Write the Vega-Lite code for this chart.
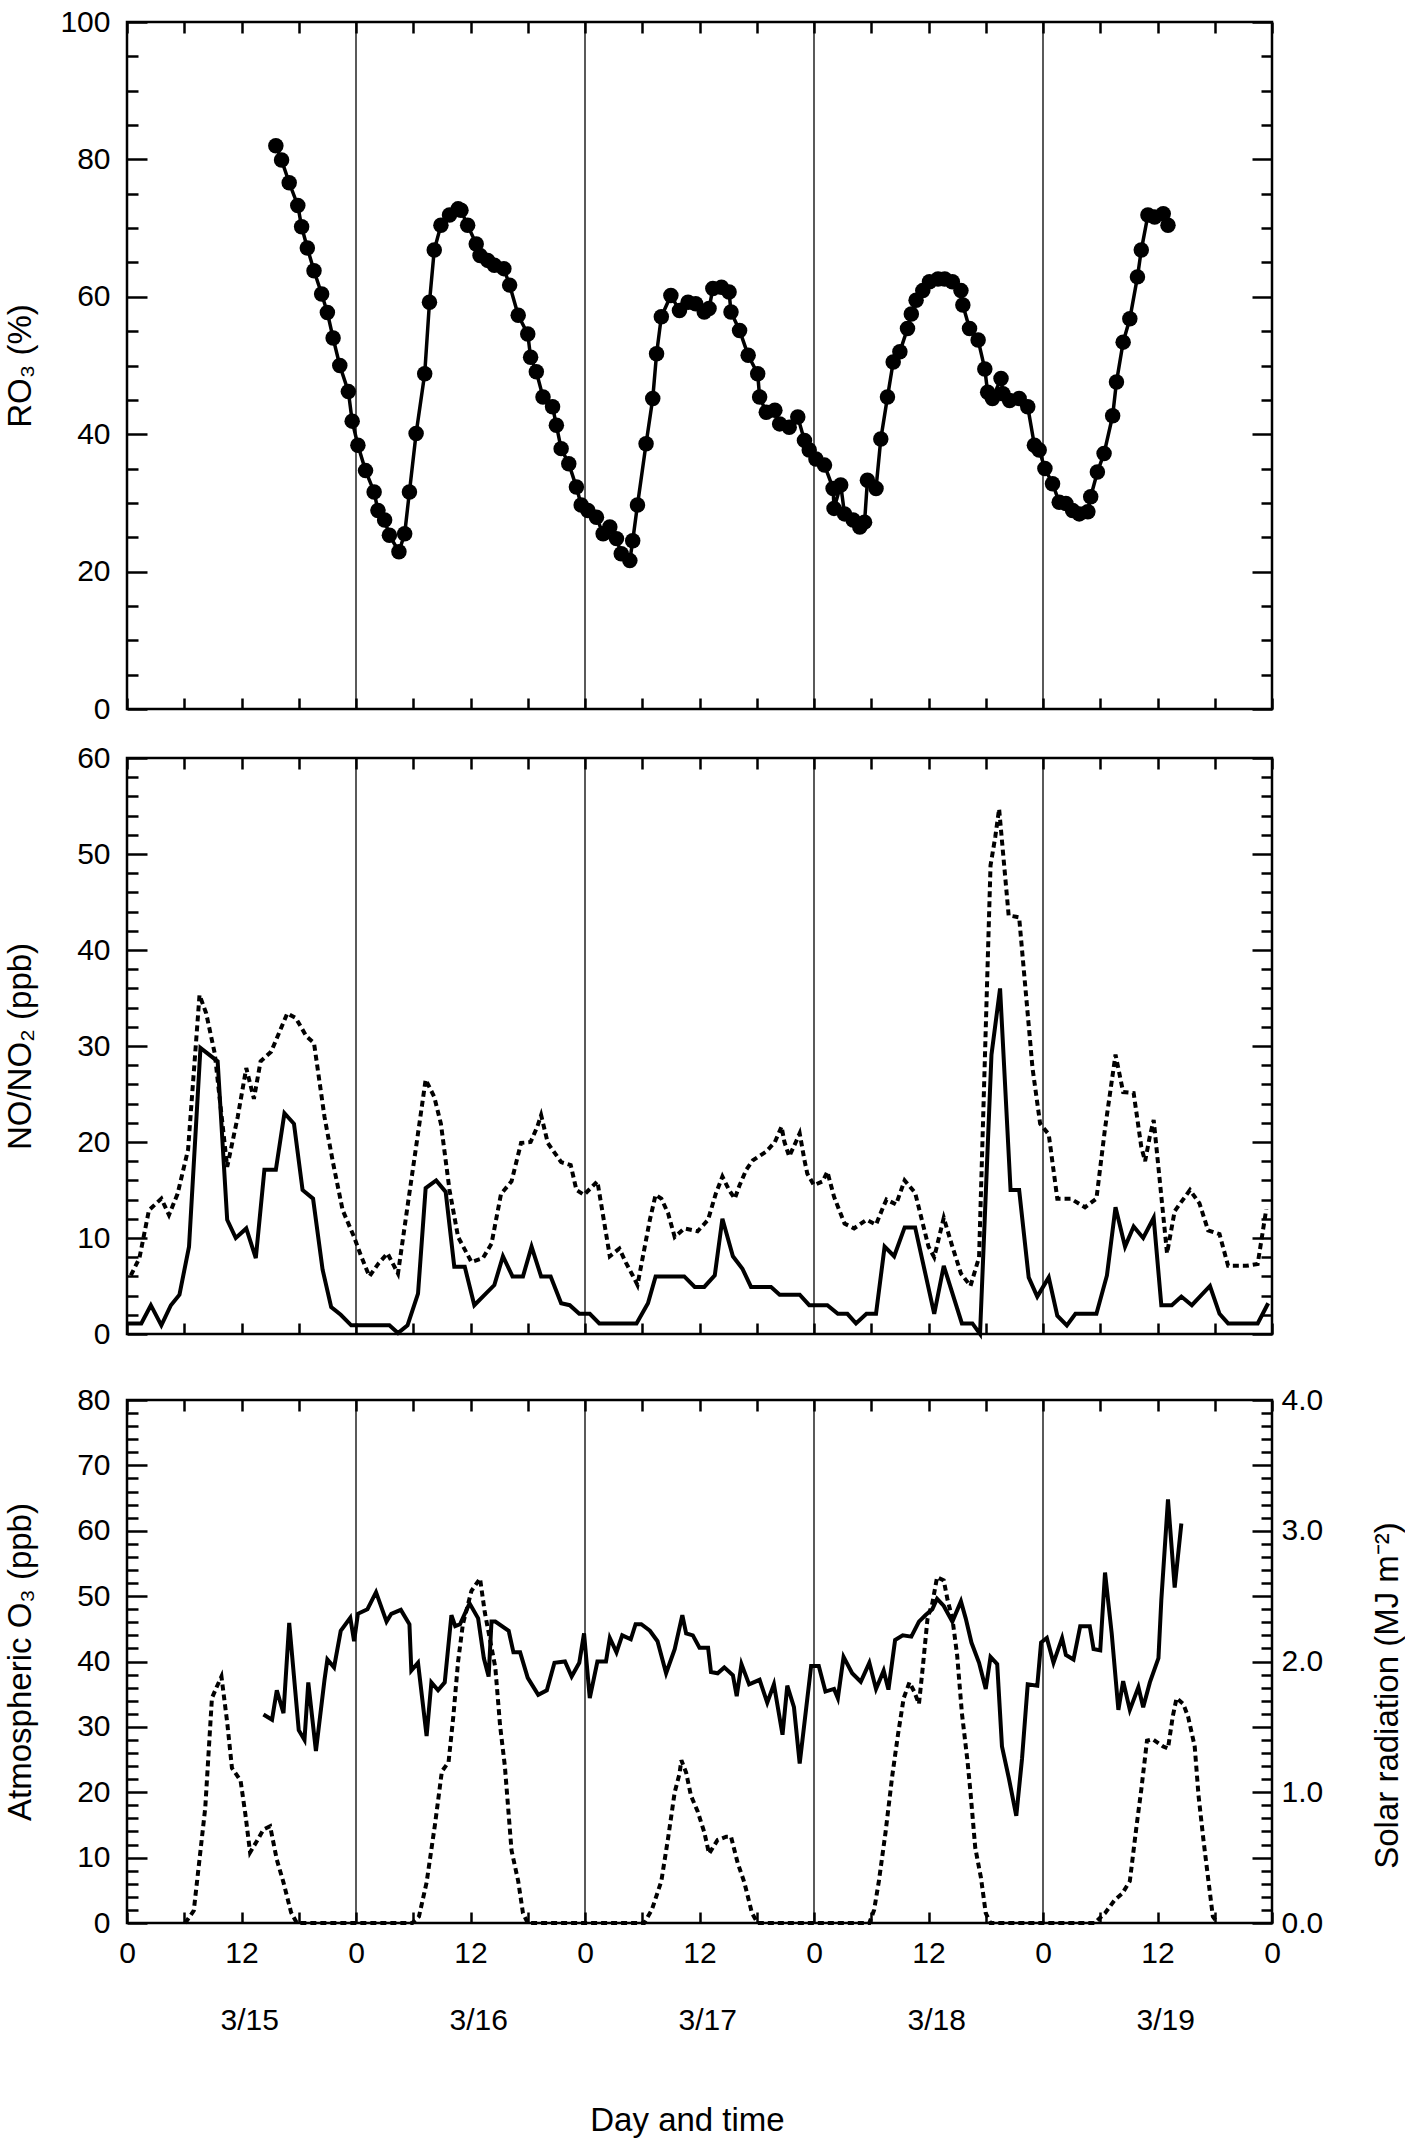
{
  "$schema": "https://vega.github.io/schema/vega-lite/v6.json",
  "padding": {"left": 2, "top": 5, "right": 0, "bottom": 0},
  "background": "white",
  "config": {
    "font": "Liberation Sans",
    "view": {"stroke": "black", "strokeWidth": 2.5},
    "axis": {
      "labelFont": "Liberation Sans", "labelFontSize": 30, "labelColor": "black",
      "titleFont": "Liberation Sans", "titleFontSize": 33, "titleFontWeight": "normal", "titleColor": "black",
      "tickColor": "black", "tickWidth": 2.5, "domain": false, "grid": false,
      "labelOverlap": false, "labelFlush": false
    }
  },
  "datasets": {
    "days": [{"d": 24}, {"d": 48}, {"d": 72}, {"d": 96}],
    "ro3": [
      {"h":15.6,"v":82.0},{"h":16.2,"v":79.9},{"h":17.0,"v":76.6},{"h":17.9,"v":73.3},{"h":18.3,"v":70.2},{"h":18.9,"v":67.1},
      {"h":19.6,"v":63.8},{"h":20.4,"v":60.4},{"h":21.0,"v":57.7},{"h":21.6,"v":54.0},{"h":22.3,"v":50.0},{"h":23.2,"v":46.2},
      {"h":23.6,"v":41.9},{"h":24.2,"v":38.4},{"h":25.0,"v":34.7},{"h":25.9,"v":31.6},{"h":26.3,"v":28.9},{"h":27.0,"v":27.5},
      {"h":27.5,"v":25.3},{"h":28.5,"v":22.9},{"h":29.1,"v":25.5},{"h":29.6,"v":31.6},{"h":30.3,"v":40.1},{"h":31.2,"v":48.8},
      {"h":31.7,"v":59.2},{"h":32.2,"v":66.8},{"h":32.9,"v":70.4},{"h":33.8,"v":71.9},{"h":34.7,"v":72.8},{"h":35.0,"v":72.6},
      {"h":35.7,"v":70.4},{"h":36.6,"v":67.7},{"h":37.0,"v":66.0},{"h":37.8,"v":65.3},{"h":38.5,"v":64.6},{"h":39.5,"v":64.1},
      {"h":40.1,"v":61.7},{"h":41.0,"v":57.3},{"h":42.0,"v":54.6},{"h":42.3,"v":51.2},{"h":42.9,"v":49.1},{"h":43.6,"v":45.4},
      {"h":44.6,"v":44.0},{"h":45.0,"v":41.3},{"h":45.5,"v":37.9},{"h":46.3,"v":35.7},{"h":47.1,"v":32.3},{"h":47.6,"v":29.7},
      {"h":48.3,"v":28.9},{"h":49.2,"v":27.9},{"h":49.9,"v":25.5},{"h":50.6,"v":26.5},{"h":51.3,"v":24.8},{"h":51.8,"v":22.6},
      {"h":52.7,"v":21.6},{"h":53.0,"v":24.5},{"h":53.5,"v":29.7},{"h":54.4,"v":38.6},{"h":55.1,"v":45.2},{"h":55.5,"v":51.7},
      {"h":56.0,"v":57.1},{"h":57.0,"v":60.2},{"h":57.9,"v":58.0},{"h":58.8,"v":59.2},{"h":59.6,"v":59.0},{"h":60.5,"v":57.8},
      {"h":61.0,"v":58.3},{"h":61.4,"v":61.2},{"h":62.3,"v":61.4},{"h":63.1,"v":60.7},{"h":63.3,"v":57.8},{"h":64.2,"v":55.1},
      {"h":65.1,"v":51.5},{"h":66.1,"v":48.8},{"h":66.3,"v":45.4},{"h":67.0,"v":43.2},{"h":67.9,"v":43.5},{"h":68.4,"v":41.5},
      {"h":69.4,"v":41.0},{"h":70.3,"v":42.5},{"h":71.0,"v":39.1},{"h":71.5,"v":37.7},{"h":72.2,"v":36.4},{"h":73.1,"v":35.5},
      {"h":74.0,"v":32.1},{"h":74.1,"v":29.2},{"h":74.8,"v":32.6},{"h":75.2,"v":28.4},{"h":76.1,"v":27.5},{"h":76.8,"v":26.5},
      {"h":77.3,"v":27.2},{"h":77.6,"v":33.3},{"h":78.5,"v":32.1},{"h":79.0,"v":39.3},{"h":79.7,"v":45.4},{"h":80.3,"v":50.5},
      {"h":81.0,"v":52.0},{"h":81.8,"v":55.4},{"h":82.2,"v":57.5},{"h":82.7,"v":59.5},{"h":83.4,"v":60.9},{"h":84.1,"v":62.2},
      {"h":85.0,"v":62.6},{"h":85.7,"v":62.6},{"h":86.5,"v":62.2},{"h":87.4,"v":60.9},{"h":87.6,"v":58.8},{"h":88.3,"v":55.4},
      {"h":89.2,"v":53.7},{"h":89.9,"v":49.5},{"h":90.2,"v":46.1},{"h":90.7,"v":45.2},{"h":91.6,"v":48.1},{"h":91.8,"v":45.9},
      {"h":92.5,"v":44.9},{"h":93.5,"v":45.2},{"h":94.4,"v":44.0},{"h":95.1,"v":38.4},{"h":95.6,"v":37.7},{"h":96.2,"v":35.0},
      {"h":97.0,"v":32.8},{"h":97.7,"v":30.1},{"h":98.4,"v":29.9},{"h":99.1,"v":28.9},{"h":99.8,"v":28.4},{"h":100.7,"v":28.7},
      {"h":101.0,"v":30.9},{"h":101.7,"v":34.5},{"h":102.4,"v":37.2},{"h":103.3,"v":42.7},{"h":103.7,"v":47.6},{"h":104.4,"v":53.4},
      {"h":105.1,"v":56.8},{"h":105.9,"v":62.9},{"h":106.3,"v":66.8},{"h":107.0,"v":71.9},{"h":107.7,"v":71.6},{"h":108.6,"v":72.1},
      {"h":109.1,"v":70.4}
    ],
    "no": [
      {"h":0.1,"v":1.1},{"h":1.5,"v":1.1},{"h":2.5,"v":3.0},{"h":3.6,"v":0.9},{"h":4.6,"v":3.0},{"h":5.5,"v":4.1},{"h":6.5,"v":9.1},
      {"h":7.7,"v":29.8},{"h":9.5,"v":28.4},{"h":10.5,"v":11.9},{"h":11.4,"v":10.0},{"h":12.5,"v":11.0},{"h":13.5,"v":7.9},
      {"h":14.4,"v":17.1},{"h":15.6,"v":17.1},{"h":16.5,"v":23.0},{"h":17.5,"v":21.9},{"h":18.4,"v":15.0},{"h":19.5,"v":14.1},
      {"h":20.5,"v":6.7},{"h":21.4,"v":2.8},{"h":22.4,"v":2.0},{"h":23.5,"v":0.9},{"h":27.5,"v":0.9},{"h":28.4,"v":0.1},
      {"h":29.4,"v":0.9},{"h":30.5,"v":4.2},{"h":31.3,"v":15.2},{"h":32.4,"v":16.0},{"h":33.4,"v":14.8},{"h":34.3,"v":7.0},
      {"h":35.4,"v":7.0},{"h":36.4,"v":3.0},{"h":37.5,"v":4.1},{"h":38.5,"v":5.1},{"h":39.4,"v":8.1},{"h":40.4,"v":6.0},
      {"h":41.5,"v":6.0},{"h":42.4,"v":9.1},{"h":43.4,"v":6.0},{"h":44.4,"v":6.0},{"h":45.5,"v":3.2},{"h":46.4,"v":3.0},
      {"h":47.4,"v":2.1},{"h":48.5,"v":2.1},{"h":49.5,"v":1.1},{"h":53.4,"v":1.1},{"h":54.6,"v":3.2},{"h":55.4,"v":6.0},
      {"h":58.4,"v":6.0},{"h":59.5,"v":4.9},{"h":60.5,"v":4.9},{"h":61.6,"v":6.1},{"h":62.4,"v":12.0},{"h":63.5,"v":8.1},
      {"h":64.5,"v":6.8},{"h":65.4,"v":4.9},{"h":67.5,"v":4.9},{"h":68.4,"v":4.1},{"h":70.5,"v":4.1},{"h":71.5,"v":3.0},
      {"h":73.4,"v":3.0},{"h":74.5,"v":2.1},{"h":75.5,"v":2.1},{"h":76.4,"v":1.1},{"h":77.5,"v":2.1},{"h":78.5,"v":2.1},
      {"h":79.4,"v":9.1},{"h":80.4,"v":8.1},{"h":81.5,"v":11.1},{"h":82.6,"v":11.1},{"h":84.6,"v":2.1},{"h":85.6,"v":7.1},
      {"h":87.5,"v":1.1},{"h":88.6,"v":1.1},{"h":89.4,"v":0.0},{"h":90.6,"v":29.1},{"h":91.5,"v":36.0},{"h":92.6,"v":15.0},
      {"h":93.5,"v":15.0},{"h":94.5,"v":5.9},{"h":95.4,"v":3.9},{"h":96.6,"v":5.9},{"h":97.5,"v":1.9},{"h":98.5,"v":0.9},
      {"h":99.4,"v":2.1},{"h":101.6,"v":2.1},{"h":102.7,"v":6.1},{"h":103.6,"v":13.2},{"h":104.6,"v":9.1},{"h":105.5,"v":11.2},
      {"h":106.5,"v":10.0},{"h":107.6,"v":12.1},{"h":108.4,"v":3.0},{"h":109.5,"v":3.0},{"h":110.5,"v":3.9},{"h":111.6,"v":3.0},
      {"h":113.5,"v":5.0},{"h":114.5,"v":2.1},{"h":115.4,"v":1.1},{"h":118.5,"v":1.1},{"h":119.6,"v":3.2}
    ],
    "no2": [
      {"h":0.4,"v":6.1},{"h":1.3,"v":7.9},{"h":2.3,"v":12.9},{"h":3.6,"v":14.1},{"h":4.4,"v":12.4},{"h":5.3,"v":14.6},
      {"h":6.4,"v":19.2},{"h":7.6,"v":35.3},{"h":8.3,"v":33.4},{"h":9.2,"v":29.2},{"h":10.5,"v":17.4},{"h":11.6,"v":22.6},
      {"h":12.5,"v":27.7},{"h":13.3,"v":24.5},{"h":14.0,"v":28.4},{"h":15.1,"v":29.4},{"h":16.8,"v":33.4},{"h":17.7,"v":32.9},
      {"h":18.8,"v":31.0},{"h":19.6,"v":30.3},{"h":20.7,"v":22.6},{"h":21.6,"v":17.8},{"h":22.6,"v":12.9},{"h":23.8,"v":10.1},
      {"h":24.5,"v":8.2},{"h":25.4,"v":6.0},{"h":26.4,"v":7.4},{"h":27.3,"v":8.4},{"h":28.4,"v":6.3},{"h":29.4,"v":13.3},
      {"h":30.5,"v":20.9},{"h":31.3,"v":26.5},{"h":32.2,"v":24.7},{"h":32.9,"v":21.9},{"h":33.8,"v":15.0},{"h":34.7,"v":10.1},
      {"h":36.1,"v":7.5},{"h":37.3,"v":7.9},{"h":38.2,"v":9.4},{"h":39.2,"v":14.6},{"h":40.3,"v":15.9},{"h":41.3,"v":19.9},
      {"h":42.3,"v":20.0},{"h":43.0,"v":21.6},{"h":43.4,"v":22.8},{"h":44.1,"v":19.9},{"h":45.5,"v":17.9},{"h":46.5,"v":17.6},
      {"h":47.1,"v":15.0},{"h":47.9,"v":14.5},{"h":49.3,"v":15.9},{"h":50.6,"v":8.1},{"h":51.6,"v":8.9},{"h":52.3,"v":7.4},
      {"h":53.0,"v":6.1},{"h":53.5,"v":5.1},{"h":54.8,"v":11.9},{"h":55.4,"v":14.5},{"h":56.0,"v":14.1},{"h":56.7,"v":12.6},
      {"h":57.4,"v":10.1},{"h":58.4,"v":11.0},{"h":59.8,"v":10.7},{"h":60.9,"v":11.9},{"h":61.7,"v":14.6},{"h":62.4,"v":16.4},
      {"h":63.1,"v":15.0},{"h":63.7,"v":14.1},{"h":64.2,"v":15.5},{"h":64.9,"v":17.1},{"h":65.6,"v":18.1},{"h":67.0,"v":19.0},
      {"h":67.9,"v":20.0},{"h":68.6,"v":21.6},{"h":68.9,"v":20.0},{"h":69.4,"v":18.5},{"h":70.1,"v":20.0},{"h":70.5,"v":20.9},
      {"h":71.0,"v":18.1},{"h":71.3,"v":16.7},{"h":72.0,"v":15.5},{"h":72.9,"v":15.9},{"h":73.4,"v":16.9},{"h":74.1,"v":14.3},
      {"h":75.2,"v":11.5},{"h":76.2,"v":11.0},{"h":77.5,"v":11.9},{"h":78.5,"v":11.4},{"h":79.2,"v":13.1},{"h":79.6,"v":14.0},
      {"h":80.6,"v":13.5},{"h":81.5,"v":16.0},{"h":82.6,"v":14.7},{"h":84.0,"v":9.1},{"h":84.6,"v":8.0},{"h":85.6,"v":12.1},
      {"h":86.5,"v":9.1},{"h":87.4,"v":6.3},{"h":88.4,"v":5.0},{"h":89.3,"v":8.0},{"h":90.5,"v":48.8},{"h":91.0,"v":51.8},
      {"h":91.4,"v":54.7},{"h":92.4,"v":43.6},{"h":93.5,"v":43.4},{"h":94.9,"v":27.7},{"h":95.7,"v":21.9},{"h":96.6,"v":20.8},
      {"h":97.5,"v":14.1},{"h":98.9,"v":14.1},{"h":100.4,"v":13.2},{"h":101.6,"v":14.1},{"h":102.5,"v":21.4},{"h":103.6,"v":29.1},
      {"h":104.4,"v":25.2},{"h":105.5,"v":25.1},{"h":106.3,"v":19.5},{"h":106.7,"v":18.0},{"h":107.2,"v":20.6},{"h":107.6,"v":22.3},
      {"h":109.0,"v":8.4},{"h":109.8,"v":12.8},{"h":111.4,"v":15.0},{"h":112.4,"v":13.6},{"h":113.3,"v":10.8},{"h":114.5,"v":10.4},
      {"h":115.4,"v":7.1},{"h":117.3,"v":7.1},{"h":118.5,"v":7.3},{"h":119.4,"v":13.0}
    ],
    "o3": [
      {"h":14.3,"v":31.9},{"h":15.2,"v":31.1},{"h":15.7,"v":35.6},{"h":16.4,"v":32.1},{"h":17.0,"v":45.9},{"h":18.0,"v":29.5},
      {"h":18.6,"v":28.0},{"h":19.0,"v":36.8},{"h":19.8,"v":26.3},{"h":20.7,"v":37.2},{"h":21.0,"v":40.3},{"h":21.7,"v":39.1},
      {"h":22.4,"v":44.7},{"h":23.4,"v":46.7},{"h":23.8,"v":43.1},{"h":24.2,"v":47.3},{"h":25.2,"v":48.0},{"h":26.1,"v":50.6},
      {"h":27.2,"v":46.1},{"h":27.7,"v":47.3},{"h":28.7,"v":47.9},{"h":29.6,"v":45.7},{"h":29.8,"v":38.6},{"h":30.5,"v":39.8},
      {"h":31.4,"v":28.6},{"h":31.9,"v":36.8},{"h":32.6,"v":35.6},{"h":33.3,"v":36.8},{"h":34.0,"v":47.1},{"h":34.4,"v":45.4},
      {"h":34.9,"v":45.7},{"h":35.9,"v":48.9},{"h":36.8,"v":46.6},{"h":37.4,"v":40.5},{"h":37.9,"v":37.7},{"h":38.2,"v":46.1},
      {"h":38.6,"v":46.1},{"h":40.0,"v":44.7},{"h":40.5,"v":41.4},{"h":41.2,"v":41.4},{"h":42.0,"v":37.5},{"h":43.1,"v":34.9},
      {"h":44.0,"v":35.6},{"h":44.8,"v":39.8},{"h":45.9,"v":40.0},{"h":46.6,"v":37.7},{"h":47.4,"v":39.8},{"h":47.9,"v":44.3},
      {"h":48.5,"v":34.4},{"h":49.3,"v":40.0},{"h":50.2,"v":40.0},{"h":50.6,"v":43.6},{"h":51.3,"v":41.4},{"h":51.9,"v":44.0},
      {"h":52.8,"v":43.4},{"h":53.3,"v":45.7},{"h":53.9,"v":45.7},{"h":54.8,"v":44.7},{"h":55.6,"v":43.1},{"h":56.5,"v":38.2},
      {"h":57.4,"v":41.9},{"h":58.2,"v":47.1},{"h":58.6,"v":44.3},{"h":59.3,"v":44.0},{"h":60.0,"v":42.1},{"h":60.9,"v":42.1},
      {"h":61.2,"v":38.4},{"h":61.9,"v":38.2},{"h":62.6,"v":39.1},{"h":63.5,"v":37.9},{"h":63.9,"v":34.7},{"h":64.4,"v":39.6},
      {"h":65.2,"v":36.5},{"h":66.3,"v":37.2},{"h":67.1,"v":33.7},{"h":67.8,"v":36.5},{"h":68.7,"v":28.8},{"h":69.2,"v":36.3},
      {"h":69.9,"v":33.0},{"h":70.5,"v":24.4},{"h":71.7,"v":39.3},{"h":72.5,"v":39.3},{"h":73.2,"v":35.4},{"h":74.1,"v":35.8},
      {"h":74.5,"v":34.4},{"h":75.1,"v":40.7},{"h":76.0,"v":38.2},{"h":76.9,"v":36.9},{"h":77.8,"v":39.8},{"h":78.5,"v":35.8},
      {"h":79.3,"v":38.6},{"h":79.8,"v":35.7},{"h":80.5,"v":43.3},{"h":81.3,"v":44.0},{"h":82.2,"v":43.8},{"h":83.0,"v":46.1},
      {"h":83.7,"v":47.1},{"h":84.4,"v":48.0},{"h":84.9,"v":49.6},{"h":85.6,"v":48.5},{"h":86.5,"v":46.1},{"h":87.4,"v":49.2},
      {"h":87.9,"v":46.6},{"h":88.5,"v":42.9},{"h":89.3,"v":39.8},{"h":90.0,"v":35.8},{"h":90.5,"v":40.7},{"h":91.2,"v":39.6},
      {"h":91.7,"v":27.0},{"h":92.4,"v":22.3},{"h":93.2,"v":16.4},{"h":93.8,"v":25.1},{"h":94.4,"v":36.5},{"h":95.4,"v":36.3},
      {"h":95.8,"v":42.9},{"h":96.4,"v":43.6},{"h":97.1,"v":39.8},{"h":98.0,"v":43.6},{"h":98.4,"v":41.0},{"h":99.2,"v":40.3},
      {"h":99.9,"v":45.4},{"h":100.9,"v":45.4},{"h":101.3,"v":41.9},{"h":102.0,"v":41.7},{"h":102.5,"v":53.6},{"h":103.2,"v":44.3},
      {"h":103.9,"v":32.6},{"h":104.4,"v":37.0},{"h":105.1,"v":32.6},{"h":106.0,"v":36.1},{"h":106.5,"v":33.0},{"h":107.2,"v":36.8},
      {"h":108.1,"v":40.5},{"h":108.4,"v":49.4},{"h":109.1,"v":64.8},{"h":109.8,"v":51.3},{"h":110.5,"v":61.1}
    ],
    "solar": [
      {"h":6.1,"v":0},{"h":7.0,"v":0.095},{"h":8.2,"v":0.88},{"h":8.9,"v":1.72},{"h":9.4,"v":1.805},{"h":9.9,"v":1.885},
      {"h":10.5,"v":1.535},{"h":11.0,"v":1.185},{"h":11.9,"v":1.09},{"h":12.4,"v":0.835},{"h":12.9,"v":0.54},{"h":13.6,"v":0.625},
      {"h":14.3,"v":0.715},{"h":15.0,"v":0.74},{"h":15.7,"v":0.485},{"h":16.4,"v":0.31},{"h":17.2,"v":0.08},{"h":17.8,"v":0},
      {"h":29.9,"v":0},{"h":30.6,"v":0.05},{"h":31.4,"v":0.31},{"h":32.3,"v":0.765},{"h":33.0,"v":1.16},{"h":33.7,"v":1.23},
      {"h":34.2,"v":1.58},{"h":34.7,"v":2.0},{"h":35.2,"v":2.285},{"h":36.1,"v":2.54},{"h":37.0,"v":2.635},{"h":37.5,"v":2.375},
      {"h":38.6,"v":1.955},{"h":39.1,"v":1.51},{"h":39.6,"v":1.2},{"h":40.3,"v":0.555},{"h":41.0,"v":0.32},{"h":41.5,"v":0.075},
      {"h":42.0,"v":0},{"h":54.2,"v":0},{"h":55.0,"v":0.1},{"h":56.0,"v":0.32},{"h":56.7,"v":0.645},{"h":57.4,"v":1.0},
      {"h":57.9,"v":1.14},{"h":58.1,"v":1.245},{"h":58.6,"v":1.15},{"h":59.1,"v":0.975},{"h":59.8,"v":0.855},{"h":60.5,"v":0.695},
      {"h":61.0,"v":0.53},{"h":61.9,"v":0.635},{"h":62.8,"v":0.66},{"h":63.3,"v":0.66},{"h":64.0,"v":0.46},{"h":64.7,"v":0.31},
      {"h":65.5,"v":0.075},{"h":66.1,"v":0},{"h":77.8,"v":0},{"h":78.3,"v":0.1},{"h":78.8,"v":0.32},{"h":79.5,"v":0.695},
      {"h":80.2,"v":1.125},{"h":80.8,"v":1.44},{"h":81.4,"v":1.72},{"h":82.0,"v":1.84},{"h":82.5,"v":1.77},{"h":83.0,"v":1.675},
      {"h":83.4,"v":1.955},{"h":83.9,"v":2.33},{"h":84.4,"v":2.445},{"h":84.9,"v":2.645},{"h":85.6,"v":2.62},{"h":86.0,"v":2.47},
      {"h":86.5,"v":2.33},{"h":87.0,"v":2.05},{"h":87.5,"v":1.605},{"h":88.1,"v":1.23},{"h":88.4,"v":1.0},{"h":88.9,"v":0.575},
      {"h":89.5,"v":0.345},{"h":90.0,"v":0.075},{"h":90.5,"v":0},{"h":101.4,"v":0},{"h":102.5,"v":0.075},{"h":103.5,"v":0.175},
      {"h":104.3,"v":0.225},{"h":105.1,"v":0.32},{"h":105.8,"v":0.74},{"h":106.3,"v":1.02},{"h":106.9,"v":1.395},{"h":107.5,"v":1.405},
      {"h":108.6,"v":1.35},{"h":109.1,"v":1.335},{"h":109.6,"v":1.58},{"h":110.0,"v":1.72},{"h":110.7,"v":1.675},{"h":111.2,"v":1.58},
      {"h":111.9,"v":1.35},{"h":112.3,"v":0.975},{"h":112.8,"v":0.645},{"h":113.3,"v":0.345},{"h":113.8,"v":0.05},{"h":114.3,"v":0}
    ]
  },
  "spacing": 15,
  "vconcat": [
    {
      "width": 1145,
      "height": 687,
      "resolve": {"axis": {"x": "independent", "y": "independent"}},
      "layer": [
        {
          "data": {"name": "days"},
          "mark": {"type": "rule", "stroke": "black", "strokeWidth": 1.3},
          "encoding": {"x": {"field": "d", "type": "quantitative", "scale": {"domain": [0, 120], "nice": false}, "axis": null}}
        },
        {
          "data": {"name": "ro3"},
          "mark": {"type": "line", "color": "black", "strokeWidth": 3.5},
          "encoding": {
            "x": {"field": "h", "type": "quantitative", "scale": {"domain": [0, 120], "nice": false},
              "axis": {"orient": "bottom", "values": [0,6,12,18,24,30,36,42,48,54,60,66,72,78,84,90,96,102,108,114,120], "labels": false, "tickSize": -11, "title": null}},
            "y": {"field": "v", "type": "quantitative", "scale": {"domain": [0, 100], "nice": false},
              "axis": {"orient": "left", "values": [0,5,10,15,20,25,30,35,40,45,50,55,60,65,70,75,80,85,90,95,100],
                "tickSize": {"condition": {"test": "datum.value % 20 === 0", "value": -20}, "value": -11},
                "labelExpr": "datum.value % 20 === 0 ? datum.label : ''", "labelPadding": 37,
                "title": "RO₃ (%)", "titleX": -90, "titleAngle": 270, "titleBaseline": "bottom"}}
          }
        },
        {
          "data": {"name": "ro3"},
          "mark": {"type": "point", "filled": true, "color": "black", "opacity": 1, "size": 240},
          "encoding": {
            "x": {"field": "h", "type": "quantitative", "scale": {"domain": [0, 120], "nice": false},
              "axis": {"orient": "top", "values": [0,6,12,18,24,30,36,42,48,54,60,66,72,78,84,90,96,102,108,114,120], "labels": false, "tickSize": -11, "title": null}},
            "y": {"field": "v", "type": "quantitative", "scale": {"domain": [0, 100], "nice": false},
              "axis": {"orient": "right", "values": [0,5,10,15,20,25,30,35,40,45,50,55,60,65,70,75,80,85,90,95,100],
                "tickSize": {"condition": {"test": "datum.value % 20 === 0", "value": -20}, "value": -11},
                "labels": false, "title": null}}
          }
        }
      ]
    },
    {
      "spacing": 32,
      "vconcat": [
        {
          "width": 1145,
          "height": 576,
          "resolve": {"axis": {"x": "independent", "y": "independent"}},
          "layer": [
            {
              "data": {"name": "days"},
              "mark": {"type": "rule", "stroke": "black", "strokeWidth": 1.3},
              "encoding": {"x": {"field": "d", "type": "quantitative", "scale": {"domain": [0, 120], "nice": false}, "axis": null}}
            },
            {
              "data": {"name": "no2"},
              "mark": {"type": "line", "color": "black", "strokeWidth": 4, "strokeDash": [6, 4]},
              "encoding": {
                "x": {"field": "h", "type": "quantitative", "scale": {"domain": [0, 120], "nice": false},
                  "axis": {"orient": "top", "values": [0,6,12,18,24,30,36,42,48,54,60,66,72,78,84,90,96,102,108,114,120], "labels": false, "tickSize": -11, "title": null}},
                "y": {"field": "v", "type": "quantitative", "scale": {"domain": [0, 60], "nice": false},
                  "axis": {"orient": "right", "values": [0,2,4,6,8,10,12,14,16,18,20,22,24,26,28,30,32,34,36,38,40,42,44,46,48,50,52,54,56,58,60],
                    "tickSize": {"condition": {"test": "datum.value % 10 === 0", "value": -20}, "value": -11},
                    "labels": false, "title": null}}
              }
            },
            {
              "data": {"name": "no"},
              "mark": {"type": "line", "color": "black", "strokeWidth": 4},
              "encoding": {
                "x": {"field": "h", "type": "quantitative", "scale": {"domain": [0, 120], "nice": false},
                  "axis": {"orient": "bottom", "values": [0,6,12,18,24,30,36,42,48,54,60,66,72,78,84,90,96,102,108,114,120], "labels": false, "tickSize": -11, "title": null}},
                "y": {"field": "v", "type": "quantitative", "scale": {"domain": [0, 60], "nice": false},
                  "axis": {"orient": "left", "values": [0,2,4,6,8,10,12,14,16,18,20,22,24,26,28,30,32,34,36,38,40,42,44,46,48,50,52,54,56,58,60],
                    "tickSize": {"condition": {"test": "datum.value % 10 === 0", "value": -20}, "value": -11},
                    "labelExpr": "datum.value % 10 === 0 ? datum.label : ''", "labelPadding": 37,
                    "title": "NO/NO₂ (ppb)", "titleX": -90, "titleAngle": 270, "titleBaseline": "bottom"}}
              }
            }
          ]
        },
        {
          "width": 1145,
          "height": 523,
          "resolve": {"axis": {"x": "independent", "y": "independent"}, "scale": {"y": "independent"}},
          "layer": [
            {
              "data": {"name": "days"},
              "mark": {"type": "rule", "stroke": "black", "strokeWidth": 1.3},
              "encoding": {"x": {"field": "d", "type": "quantitative", "scale": {"domain": [0, 120], "nice": false},
                "axis": {"orient": "bottom", "values": [12.8, 36.8, 60.8, 84.8, 108.8], "ticks": false, "tickSize": 0, "offset": 82, "labelPadding": 0,
                  "labelExpr": "['3/15','3/16','3/17','3/18','3/19'][floor(datum.value / 24)]",
                  "title": "Day and time", "titlePadding": 69, "titleX": 560}}}
            },
            {
              "data": {"name": "solar"},
              "mark": {"type": "line", "color": "black", "strokeWidth": 4, "strokeDash": [6, 4]},
              "encoding": {
                "x": {"field": "h", "type": "quantitative", "scale": {"domain": [0, 120], "nice": false},
                  "axis": {"orient": "top", "values": [0,6,12,18,24,30,36,42,48,54,60,66,72,78,84,90,96,102,108,114,120], "labels": false, "tickSize": -11, "title": null}},
                "y": {"field": "v", "type": "quantitative", "scale": {"domain": [0, 4], "nice": false},
                  "axis": {"orient": "right", "values": [0,0.1,0.2,0.3,0.4,0.5,0.6,0.7,0.8,0.9,1,1.1,1.2,1.3,1.4,1.5,1.6,1.7,1.8,1.9,2,2.1,2.2,2.3,2.4,2.5,2.6,2.7,2.8,2.9,3,3.1,3.2,3.3,3.4,3.5,3.6,3.7,3.8,3.9,4],
                    "tickSize": {"condition": {"test": "abs(datum.value * 2 - round(datum.value * 2)) < 0.001", "value": -20}, "value": -11},
                    "labelExpr": "abs(datum.value - round(datum.value)) < 0.001 ? format(datum.value, '.1f') : ''", "labelPadding": 29,
                    "title": "Solar radiation (MJ m⁻²)", "titleX": 99, "titleY": 295, "titleAngle": 270, "titleBaseline": "top"}}
              }
            },
            {
              "data": {"name": "o3"},
              "mark": {"type": "line", "color": "black", "strokeWidth": 4},
              "encoding": {
                "x": {"field": "h", "type": "quantitative", "scale": {"domain": [0, 120], "nice": false},
                  "axis": {"orient": "bottom", "values": [0,6,12,18,24,30,36,42,48,54,60,66,72,78,84,90,96,102,108,114,120], "tickSize": -11, "labelPadding": 26,
                    "labelExpr": "datum.value % 24 === 0 ? '0' : (datum.value % 12 === 0 ? '12' : '')", "title": null}},
                "y": {"field": "v", "type": "quantitative", "scale": {"domain": [0, 80], "nice": false},
                  "axis": {"orient": "left", "values": [0,2,4,6,8,10,12,14,16,18,20,22,24,26,28,30,32,34,36,38,40,42,44,46,48,50,52,54,56,58,60,62,64,66,68,70,72,74,76,78,80],
                    "tickSize": {"condition": {"test": "datum.value % 10 === 0", "value": -20}, "value": -11},
                    "labelExpr": "datum.value % 10 === 0 ? datum.label : ''", "labelPadding": 37,
                    "title": "Atmospheric O₃ (ppb)", "titleX": -90, "titleAngle": 270, "titleBaseline": "bottom"}}
              }
            }
          ]
        }
      ]
    }
  ]
}
